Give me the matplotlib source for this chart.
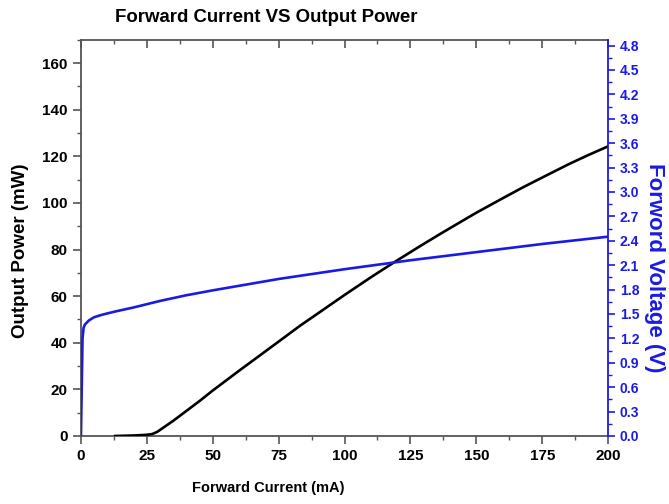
import matplotlib.pyplot as plt
import numpy as np
from matplotlib.ticker import MultipleLocator

plt.rcParams['font.family'] = ['Liberation Sans', 'DejaVu Sans']
plt.rcParams['font.weight'] = 'bold'

# output power (black) vs forward current
cur_p = [13, 20, 25, 27, 29, 35, 45, 50, 60, 75, 83, 100, 110, 118.5, 128, 136, 145, 150, 160, 167.7, 175, 185, 192, 200]
power = [0, 0.2, 0.5, 0.8, 1.8, 6.5, 15, 19.5, 28, 40.5, 47.2, 60.5, 68.1, 74.3, 81.0, 86.5, 92.5, 95.8, 102.0, 106.7, 110.9, 116.6, 120.3, 124.3]

# forward voltage (blue) vs forward current
cur_v = [0, 0.3, 0.6, 1, 1.5, 3, 5, 8, 13, 20, 30, 40, 50, 75, 100, 125, 150, 175, 200]
volt = [0, 0.6, 1.2, 1.33, 1.37, 1.42, 1.46, 1.49, 1.53, 1.58, 1.66, 1.73, 1.79, 1.93, 2.05, 2.16, 2.26, 2.36, 2.45]

blue = '#1a1ae6'
spine = '#555555'

fig = plt.figure(figsize=(6.69, 5.04), dpi=100)
ax = fig.add_axes([0.121, 0.135, 0.788, 0.786])
ax2 = ax.twinx()

ax.plot(cur_p, power, color='black', lw=1.9, zorder=3)
ax2.plot(cur_v, volt, color=blue, lw=1.9)

ax.set_xlim(0, 200)
ax.set_ylim(0, 170)
ax2.set_ylim(0, 4.87)

ax.xaxis.set_major_locator(MultipleLocator(25))
ax.xaxis.set_minor_locator(MultipleLocator(12.5))
ax.yaxis.set_major_locator(MultipleLocator(20))
ax.yaxis.set_minor_locator(MultipleLocator(10))
ax2.yaxis.set_major_locator(MultipleLocator(0.3))
ax2.yaxis.set_minor_locator(MultipleLocator(0.15))
ax2.yaxis.set_major_formatter(plt.FormatStrFormatter('%.1f'))

ax.tick_params(axis='x', which='both', direction='out', top=True, colors=spine, labelcolor='black', labelsize=11)
ax.tick_params(axis='x', which='major', length=6, width=1.2)
ax.tick_params(axis='x', which='minor', length=3, width=1)
ax.tick_params(axis='y', which='both', direction='out', colors=spine, labelcolor='black', labelsize=11)
ax.tick_params(axis='y', which='major', length=6, width=1.2)
ax.tick_params(axis='y', which='minor', length=3, width=1)
for t in ax.xaxis.get_major_ticks() + ax.xaxis.get_minor_ticks():
    t.tick2line.set_marker(3)  # top ticks point down into the plot

ax2.tick_params(axis='y', which='both', direction='out', colors=blue, labelcolor=blue, labelsize=10)
ax2.tick_params(axis='y', which='major', length=5, width=1.2)
ax2.tick_params(axis='y', which='minor', length=3, width=1)

for s in ['left', 'bottom', 'top']:
    ax.spines[s].set_color(spine)
    ax.spines[s].set_linewidth(1.3)
ax2.spines['right'].set_color(blue)
ax2.spines['right'].set_linewidth(1.3)
for s in ['left', 'bottom', 'top']:
    ax2.spines[s].set_visible(False)
ax.spines['right'].set_visible(False)

# title and x label sit left of the axes centre in the original
fig.text(0.398, 0.966, 'Forward Current VS Output Power', fontsize=13.4, fontweight='bold',
         ha='center', va='center')
fig.text(0.401, 0.032, 'Forward Current (mA)', fontsize=10.5, fontweight='bold',
         ha='center', va='center')
fig.text(0.030, 0.502, 'Output Power (mW)', fontsize=13.5, fontweight='bold',
         ha='center', va='center', rotation=90)
fig.text(0.978, 0.468, 'Forword Voltage (V)', fontsize=16, fontweight='bold', color=blue,
         ha='center', va='center', rotation=270)

fig.savefig('out.png', dpi=100)
